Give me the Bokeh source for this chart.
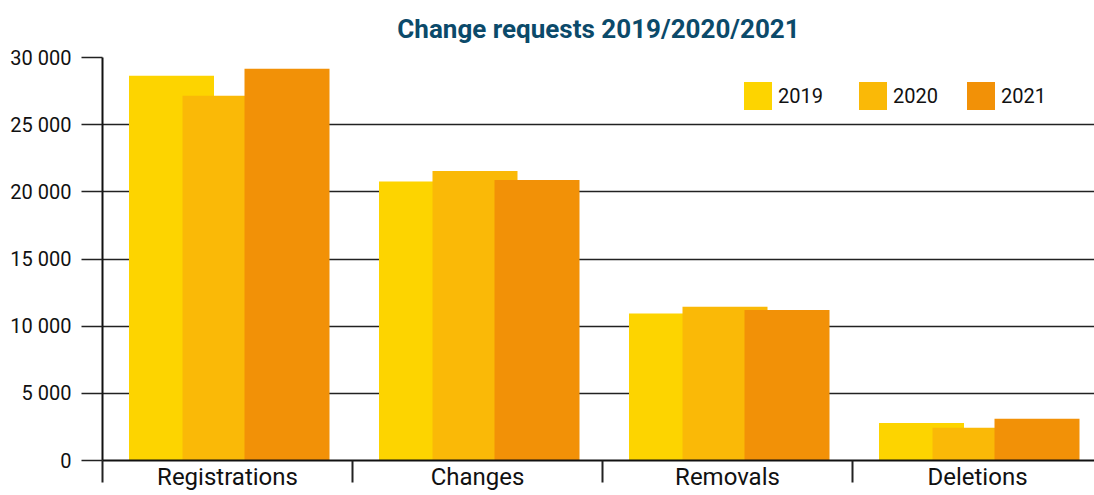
from bokeh.plotting import figure
from bokeh.models import (ColumnDataSource, Range1d, FixedTicker, Legend, LegendItem)
from bokeh.transform import dodge
from bokeh.embed import file_html
from bokeh.resources import INLINE

categories = ["Registrations", "Changes", "Removals", "Deletions"]
years = ["2019", "2020", "2021"]
v2019 = [28650, 20770, 10950, 2800]
v2020 = [27150, 21560, 11450, 2440]
v2021 = [29160, 20890, 11200, 3110]
y_ticks = [0, 5000, 10000, 15000, 20000, 25000, 30000]
y_tick_labels = ["0", "5 000", "10 000", "15 000", "20 000", "25 000", "30 000"]

colors = ["#FDD400", "#FAB907", "#F29107"]
offsets = [-0.224, -0.01, 0.238]
FONT = "Roboto"

cat_x = [i + 0.5 for i in range(len(categories))]
src = ColumnDataSource(dict(
    x=cat_x, cat=categories,
    y2019=v2019, y2020=v2020, y2021=v2021,
))

p = figure(frame_width=992, frame_height=403, output_backend="svg", toolbar_location=None,
           x_range=Range1d(0, 3.968), y_range=Range1d(0, 30000),
           min_border_left=102, min_border_right=0, min_border_top=57, min_border_bottom=35)
p.outline_line_color = None
p.background_fill_color = "white"

p.title.text = "Change requests 2019/2020/2021"
p.title.text_font = FONT
p.title.text_font_size = "26px"
p.title.text_font_style = "bold"
p.title.text_color = "#0B4A6A"
p.title.align = "center"
p.title.vertical_align = "top"
p.title.standoff = 23

renderers = []
for yr, col, off in zip(years, colors, offsets):
    r = p.vbar(x=dodge("x", off, range=p.x_range), top="y" + yr, width=0.34, bottom=0,
               source=src, fill_color=col, line_color=None)
    renderers.append(r)

# grid
p.xgrid.visible = False
p.ygrid.ticker = FixedTicker(ticks=y_ticks)
p.ygrid.grid_line_color = "#222222"
p.ygrid.grid_line_width = 1.5

# y axis
ya = p.yaxis[0]
ya.ticker = FixedTicker(ticks=y_ticks)
ya.major_label_overrides = {t: s for t, s in zip(y_ticks, y_tick_labels)}
ya.major_tick_out = 21
ya.major_tick_in = 0
ya.minor_tick_out = 0
ya.minor_tick_in = 0
ya.major_tick_line_color = "#222222"
ya.major_tick_line_width = 1.5
ya.axis_line_color = "#111111"
ya.axis_line_width = 2
ya.major_label_standoff = 10
ya.major_label_text_font = FONT
ya.major_label_text_font_size = "20px"
ya.major_label_text_color = "#111111"

# x axis: category names at centres, separators as minor ticks
xa = p.xaxis[0]
xa.ticker = FixedTicker(ticks=cat_x, minor_ticks=list(range(len(categories) + 1)))
xa.major_label_overrides = {x: c for x, c in zip(cat_x, categories)}
xa.major_tick_out = 0
xa.major_tick_in = 0
xa.minor_tick_out = 22
xa.minor_tick_in = 0
xa.minor_tick_line_color = "#222222"
xa.minor_tick_line_width = 2
xa.axis_line_color = "#111111"
xa.axis_line_width = 2
xa.major_label_standoff = -20
xa.major_label_text_font = FONT
xa.major_label_text_font_size = "24px"
xa.major_label_text_color = "#111111"

# legends
locs = [(638, 347), (753, 347), (861, 347)]
for yr, r, loc in zip(years, renderers, locs):
    leg = Legend(items=[LegendItem(label=yr, renderers=[r])], location=loc,
                 orientation="horizontal", glyph_width=35, glyph_height=35,
                 label_standoff=3, padding=0, margin=0, border_line_alpha=0,
                 background_fill_alpha=0, label_text_font=FONT,
                 label_text_font_size="20px", label_text_color="#111111")
    p.add_layout(leg)

open("out.html", "w").write(file_html(p, INLINE))
